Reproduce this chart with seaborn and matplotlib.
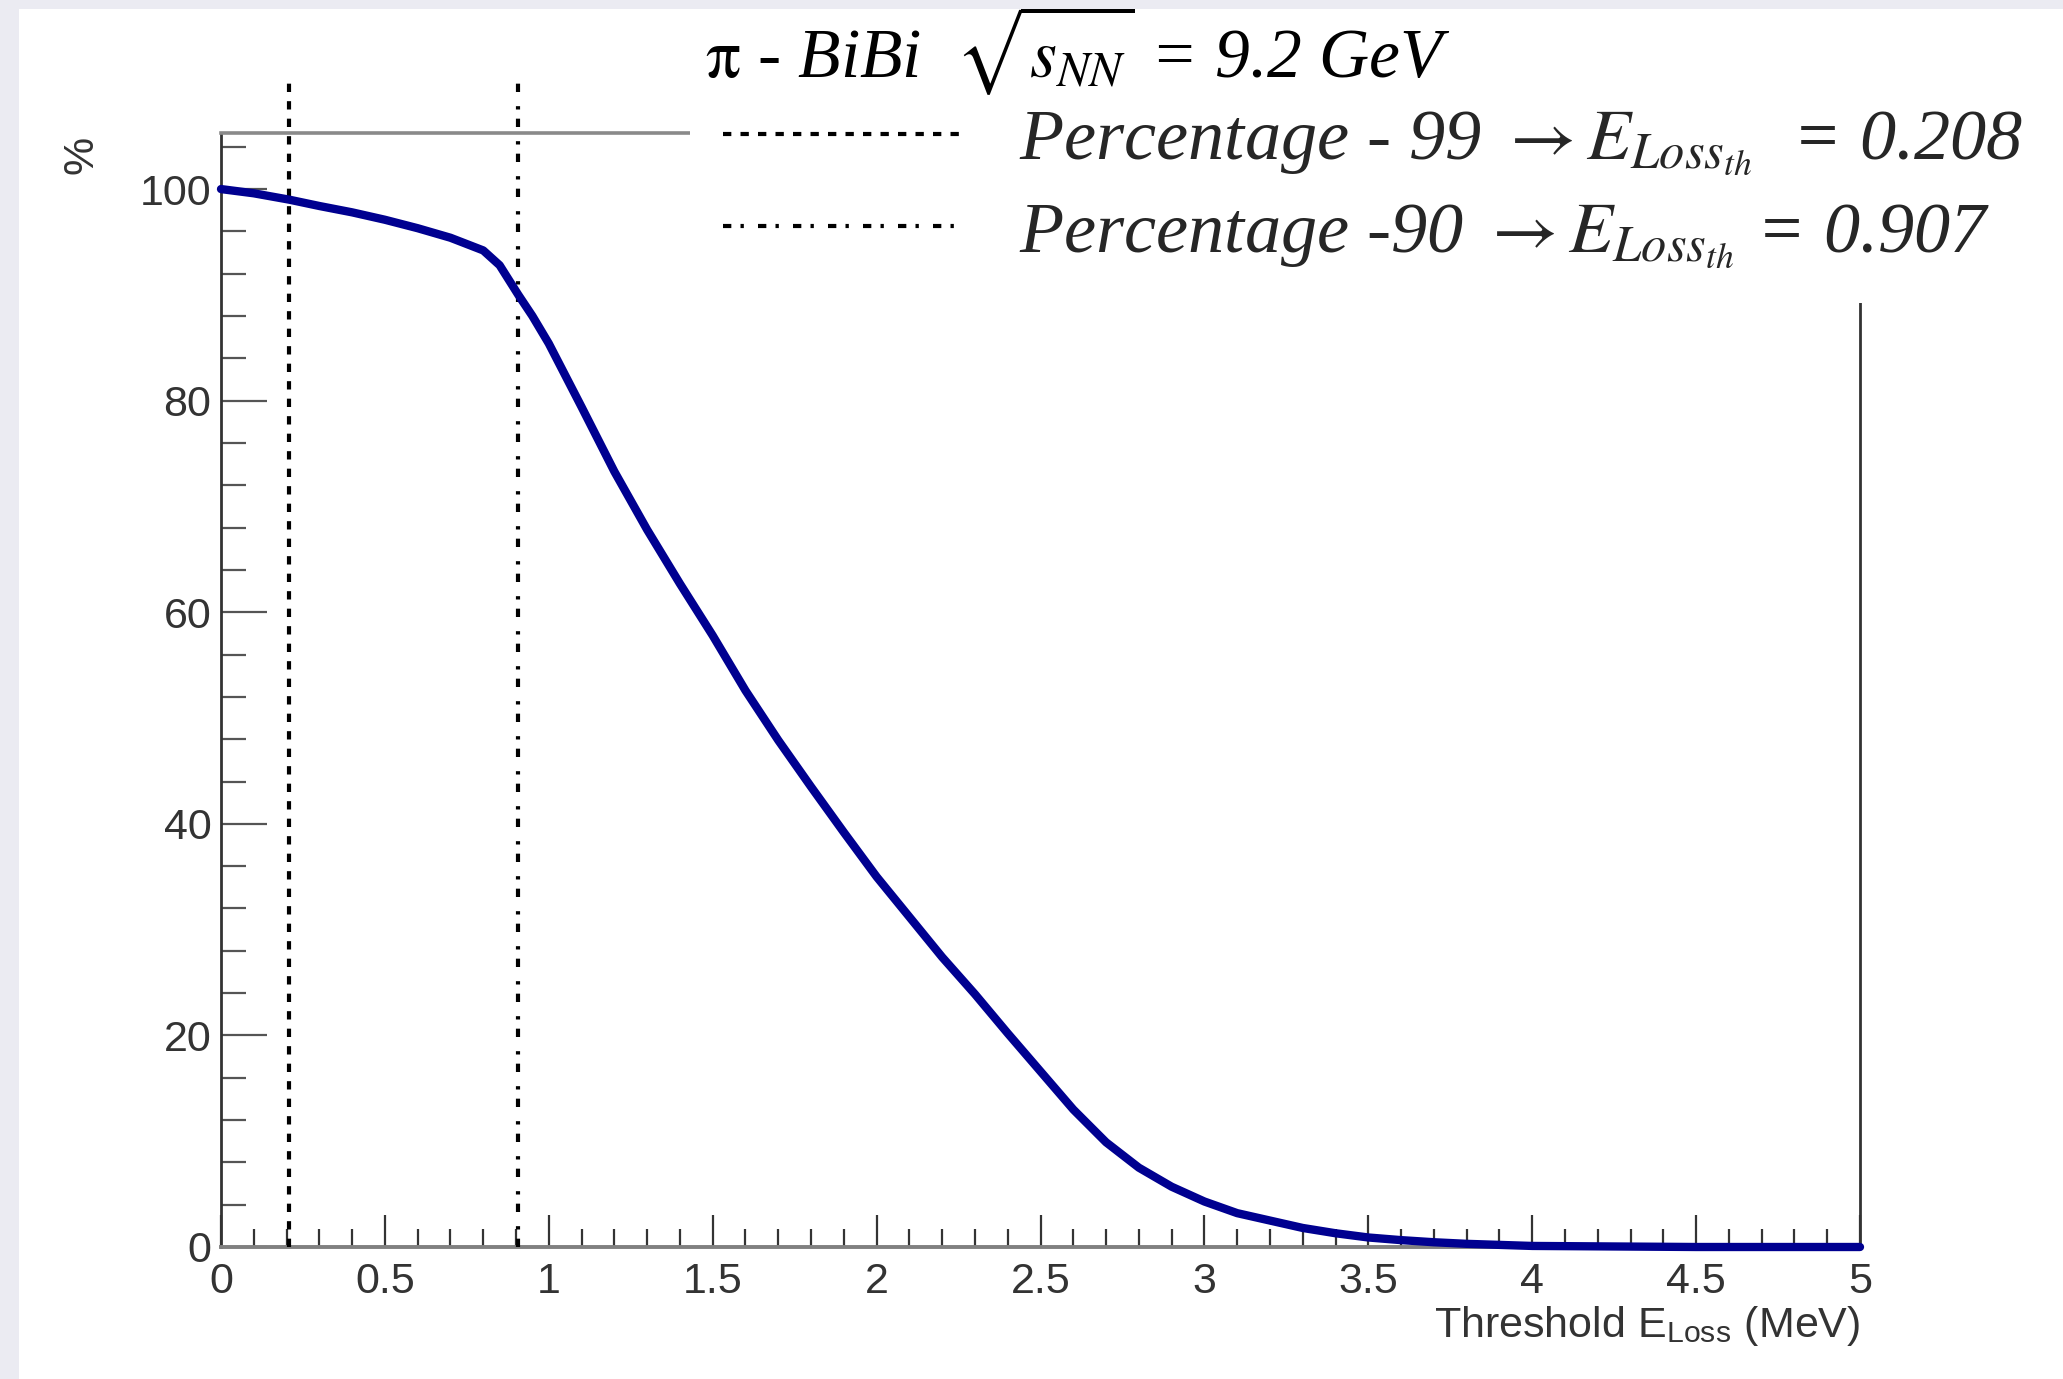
import matplotlib
matplotlib.use("Agg")
import matplotlib.pyplot as plt
from matplotlib.patches import Rectangle
from matplotlib.font_manager import FontProperties
from matplotlib.ticker import MultipleLocator
import seaborn as sns
import pandas as pd

# ---------------- data ----------------
threshold = [0.0, 0.1, 0.208, 0.3, 0.4, 0.5, 0.6, 0.7, 0.8, 0.85, 0.907, 0.95,
             1.0, 1.1, 1.2, 1.3, 1.4, 1.5, 1.6, 1.7, 1.8, 1.9, 2.0, 2.1, 2.2,
             2.3, 2.4, 2.5, 2.6, 2.7, 2.8, 2.9, 3.0, 3.1, 3.2, 3.3, 3.4, 3.5,
             3.6, 3.7, 3.8, 3.9, 4.0, 4.5, 5.0]
percentage = [100.0, 99.6, 99.0, 98.4, 97.8, 97.1, 96.3, 95.4, 94.2, 92.8, 90.0, 88.0,
              85.4, 79.4, 73.3, 67.8, 62.7, 57.8, 52.6, 47.9, 43.5, 39.2, 35.0, 31.2, 27.4,
              23.9, 20.2, 16.6, 13.0, 9.9, 7.5, 5.7, 4.3, 3.2, 2.5, 1.8, 1.3, 0.9,
              0.65, 0.45, 0.3, 0.2, 0.1, 0.0, 0.0]
cut_values = [0.208, 0.907]
cut_labels = [r"Percentage - 99 $\rightarrow E_{Loss_{th}}$  = 0.208",
              r"Percentage -90 $\rightarrow E_{Loss_{th}}$ = 0.907"]
cut_styles = [(0, (2.0, 2.2)), (0, (2.0, 2.2, 0.8, 3.4))]
title_text = r"$\mathrm{\pi}$ - BiBi  $\sqrt{s_{NN}}$ = 9.2 GeV"
x_label = r"Threshold E$_{\mathregular{Loss}}$ (MeV)"
y_label = "%"

df = pd.DataFrame({"threshold": threshold, "percentage": percentage})

# ---------------- style ----------------
sns.set_theme(style="white")
plt.rcParams["font.family"] = ["Liberation Sans", "DejaVu Sans"]
plt.rcParams["mathtext.fontset"] = "stix"

W, H = 2063, 1379
fig = plt.figure(figsize=(W / 100, H / 100), dpi=100)
fig.patch.set_facecolor("#EBEBF2")
fig.add_artist(Rectangle((19 / W, 0), 1 - 19 / W, 1 - 9 / H, transform=fig.transFigure,
                         facecolor="white", edgecolor="none", zorder=0))

ax_l, ax_r, ax_t, ax_b = 221, 1860, 133, 1247
ax = fig.add_axes([ax_l / W, 1 - ax_b / H, (ax_r - ax_l) / W, (ax_b - ax_t) / H])
ax.set_facecolor("white")

sns.lineplot(data=df, x="threshold", y="percentage", ax=ax, color="#000090",
             linewidth=6.0, estimator=None, sort=False, zorder=4, clip_on=False)

ymax = 105.3
ax.set_xlim(0, 5)
ax.set_ylim(0, ymax)

handles = []
for xv, ls in zip(cut_values, cut_styles):
    ln = ax.axvline(xv, ymin=0, ymax=110.5 / ymax, color="black", linewidth=3,
                    linestyle=ls, clip_on=False, zorder=3)
    handles.append(ln)

# spines
for side, col, lw in [("left", "#333333", 2.0), ("bottom", "#808080", 2.8),
                      ("top", "#8a8a8a", 2.6), ("right", "#333333", 2.0)]:
    ax.spines[side].set_color(col)
    ax.spines[side].set_linewidth(lw)
    ax.spines[side].set_visible(True)

ax.xaxis.set_major_locator(MultipleLocator(0.5))
ax.xaxis.set_minor_locator(MultipleLocator(0.1))
ax.yaxis.set_major_locator(MultipleLocator(20))
ax.yaxis.set_minor_locator(MultipleLocator(4))
ax.set_xticks([0, 0.5, 1, 1.5, 2, 2.5, 3, 3.5, 4, 4.5, 5])
ax.set_xticklabels(["0", "0.5", "1", "1.5", "2", "2.5", "3", "3.5", "4", "4.5", "5"])
ax.set_yticks([0, 20, 40, 60, 80, 100])
ax.set_yticklabels(["0", "20", "40", "60", "80", "100"])

ax.tick_params(axis="x", which="major", direction="in", length=23, width=1.6,
               color="#333333", labelsize=31, labelcolor="#333333", pad=11,
               bottom=True, top=False)
ax.tick_params(axis="x", which="minor", direction="in", length=13, width=1.6,
               color="#333333", bottom=True, top=False)
ax.tick_params(axis="y", which="major", direction="in", length=33, width=1.6,
               color="#555555", labelsize=31, labelcolor="#333333", pad=7,
               left=True, right=False)
ax.tick_params(axis="y", which="minor", direction="in", length=18, width=1.6,
               color="#555555", left=True, right=False)

ax.set_xlabel(x_label, fontsize=31, color="#333333", ha="right")
ax.xaxis.set_label_coords(1.0, -0.051)
ax.set_ylabel(y_label, fontsize=31, color="#333333")
ax.yaxis.set_label_coords(-0.073, 0.98)

title_font = FontProperties(family=["Liberation Serif", "DejaVu Serif"], style="italic", size=50)
legend_font = FontProperties(family=["Liberation Serif", "DejaVu Serif"], style="italic", size=52)
ax.set_title(title_text, fontproperties=title_font, x=0.523, y=1.0745, va="center", pad=0,
             color="black")
ax.title.set_zorder(8)

leg = ax.legend(handles, cut_labels, loc="upper left",
                bbox_to_anchor=(690 / W, 1 - 76 / H), bbox_transform=fig.transFigure,
                borderaxespad=0, borderpad=0.45, handlelength=3.3, handletextpad=0.8,
                labelspacing=0.33, frameon=True, fancybox=False, framealpha=1,
                facecolor="white", edgecolor="none", prop=legend_font)
leg.set_zorder(6)

fig.savefig("out.png", dpi=100, facecolor=fig.get_facecolor())
